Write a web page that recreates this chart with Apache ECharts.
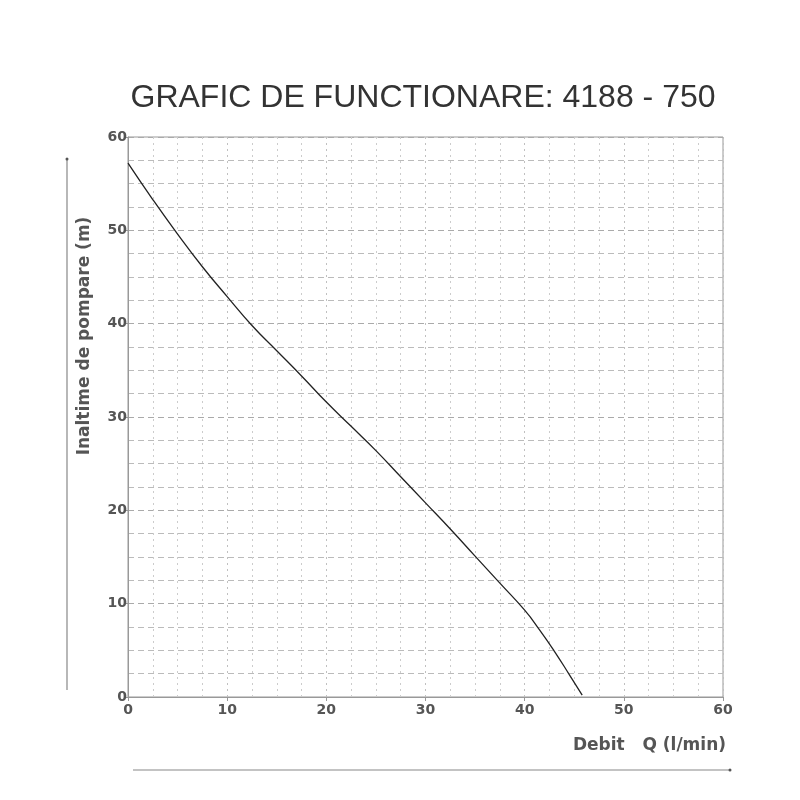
<!DOCTYPE html>
<html>
<head>
<meta charset="utf-8">
<script src="https://cdn.jsdelivr.net/npm/echarts@6/dist/echarts.min.js"></script>
<style>
html, body { margin: 0; padding: 0; background: #fff; }
#app { width: 800px; height: 800px; }
</style>
</head>
<body>
<div id="app"></div>
<script>
// debit Q (l/min) and height (m)
var debit = [0, 2.5, 5, 7.5, 10, 12.5, 15, 17.5, 20, 22.5, 25, 27.5, 30, 32.5, 35, 37.5, 40, 41.5, 43, 44.5, 45.8];
var inaltime = [57.2, 53.3, 49.6, 46.1, 42.9, 39.8, 37.1, 34.4, 31.6, 29.0, 26.4, 23.6, 20.8, 18.0, 15.1, 12.2, 9.3, 7.2, 4.9, 2.4, 0.2];
var xTicks = [0, 10, 20, 30, 40, 50, 60];
var yTicks = [0, 10, 20, 30, 40, 50, 60];

window.onload = function() {
	var myChart = echarts.init(document.getElementById('app'));
	var points = [];
	for (var i = 0; i < debit.length; i++) {
		points.push([debit[i], inaltime[i]]);
	}
	var font = 'Liberation Sans, Arial, sans-serif';
	var labelFont = 'DejaVu Sans, sans-serif';
	var option = {
		animation: false,
		backgroundColor: '#fff',
		title: {
			text: 'GRAFIC DE FUNCTIONARE: 4188 - 750',
			left: 418,
			top: 77,
			textAlign: 'center',
			textStyle: {
				fontFamily: font,
				fontSize: 32,
				fontWeight: 'normal',
				color: '#333'
			}
		},
		grid: {
			left: 128,
			right: 77,
			top: 137,
			bottom: 103,
			show: true,
			borderColor: '#999',
			borderWidth: 1
		},
		xAxis: {
			type: 'value',
			min: xTicks[0],
			max: xTicks[xTicks.length - 1],
			interval: 10,
			name: 'Debit   Q (l/min)',
			nameLocation: 'end',
			nameGap: 3,
			nameTextStyle: {
				fontFamily: labelFont,
				fontSize: 17,
				fontWeight: 'bold',
				color: '#555',
				align: 'right',
				verticalAlign: 'top',
				padding: [40, 0, 0, 0]
			},
			axisLine: { show: true, lineStyle: { color: '#999', width: 1 } },
			axisTick: { show: true, length: 4, lineStyle: { color: '#999' } },
			axisLabel: { fontFamily: labelFont, fontSize: 14, fontWeight: 'bold', color: '#555', margin: 6 },
			splitLine: { show: true, lineStyle: { color: '#c0c0c0', type: [2, 4], width: 1 } },
			minorTick: { show: false, splitNumber: 4 },
			minorSplitLine: { show: true, lineStyle: { color: '#cccccc', type: [2, 4], width: 1 } }
		},
		yAxis: {
			type: 'value',
			min: yTicks[0],
			max: yTicks[yTicks.length - 1],
			interval: 10,
			axisLine: { show: true, lineStyle: { color: '#999', width: 1 } },
			axisTick: { show: true, length: 4, lineStyle: { color: '#999' } },
			axisLabel: { fontFamily: labelFont, fontSize: 14, fontWeight: 'bold', color: '#555', margin: 1 },
			splitLine: { show: true, lineStyle: { color: '#aaa', type: [6, 4], width: 1 } },
			minorTick: { show: false, splitNumber: 4 },
			minorSplitLine: { show: true, lineStyle: { color: '#bbb', type: [6, 4], width: 1 } }
		},
		graphic: [{
			type: 'text',
			x: 85,
			y: 336,
			rotation: Math.PI / 2,
			style: {
				text: 'Inaltime de pompare (m)',
				font: 'bold 17px DejaVu Sans, sans-serif',
				fill: '#555',
				align: 'center',
				verticalAlign: 'middle'
			}
		}, {
			type: 'line',
			shape: { x1: 67, y1: 690, x2: 67, y2: 160 },
			style: { stroke: '#888', lineWidth: 1.2 }
		}, {
			type: 'circle',
			shape: { cx: 67, cy: 159, r: 1.5 },
			style: { fill: '#555' }
		}, {
			type: 'line',
			shape: { x1: 133, y1: 770, x2: 729, y2: 770 },
			style: { stroke: '#888', lineWidth: 1.2 }
		}, {
			type: 'circle',
			shape: { cx: 730, cy: 770, r: 1.5 },
			style: { fill: '#555' }
		}],
		series: [{
			type: 'line',
			data: points,
			smooth: true,
			showSymbol: false,
			lineStyle: { color: '#222', width: 1.3 }
		}]
	};
	myChart.setOption(option);
}
</script>
</body>
</html>
